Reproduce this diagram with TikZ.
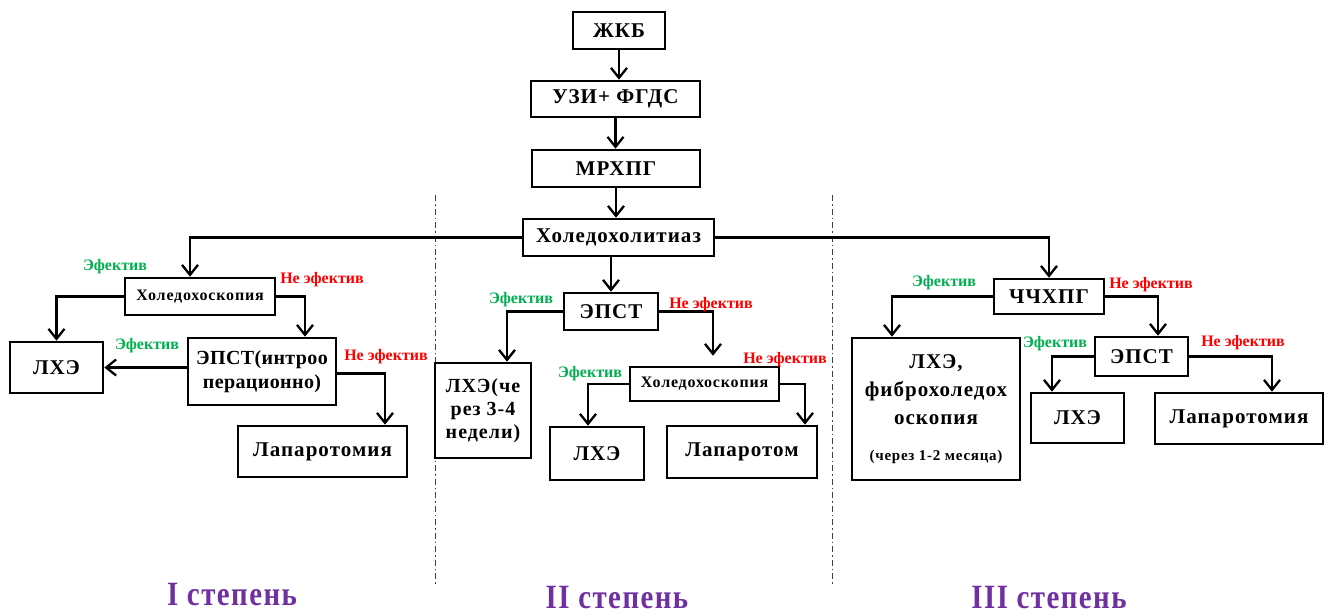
\documentclass[tikz,border=0pt]{standalone}
\usepackage{fontspec}
\setmainfont[LetterSpace=5]{Liberation Serif}
\usepackage{graphicx}
\usetikzlibrary{arrows.meta}
\definecolor{effgreen}{HTML}{00B050}
\definecolor{gradepurple}{HTML}{7030A0}
\tikzset{
  box/.style={draw, line width=2.6pt, inner sep=1pt, align=center, font=\bfseries\fontsize{21}{23}\selectfont},
  sbox/.style={box, font=\bfseries\fontsize{16}{18}\selectfont},
  conn/.style={line width=2.5pt, -{Straight Barb[length=10pt,width=16pt,line width=2.3pt]}},
  yes/.style={text=effgreen, inner sep=0pt, font=\bfseries\fontsize{16}{18}\selectfont\addfontfeature{LetterSpace=0}},
  no/.style={text=red, inner sep=0pt, font=\bfseries\fontsize{16}{18}\selectfont\addfontfeature{LetterSpace=0}},
  sepline/.style={line width=1pt, black!75, dash pattern=on 6pt off 3pt on 1.5pt off 3pt},
  grade/.style={text=gradepurple, inner sep=0pt, font=\bfseries\fontsize{34}{36}\selectfont}
}
\begin{document}
\begin{tikzpicture}[x=1pt,y=-1pt]
\fill[white] (0,0) rectangle (1330,614);
\useasboundingbox (0,0) rectangle (1330,614);

% separators
\coordinate (s1a) at (435,195); \coordinate (s1b) at (435,585);
\coordinate (s2a) at (832,195); \coordinate (s2b) at (832,585);
\draw[sepline] (s1a) -- (s1b);
\draw[sepline] (s2a) -- (s2b);

% top chain
\node[box, minimum width=92, minimum height=37] (zkb) at (619,30.5) {ЖКБ};
\node[box, minimum width=169, minimum height=36] (uzi) at (615.5,99) {УЗИ+ ФГДС};
\node[box, minimum width=168, minimum height=37] (mrh) at (616,168.5) {МРХПГ};
\node[box, minimum width=191, minimum height=37] (hol) at (618.5,237.5) {Холедохолитиаз};

% left section
\node[sbox, minimum width=150, minimum height=37] (hs1) at (200,296.5) {Холедохоскопия};
\node[box, minimum width=93, minimum height=51] (lhe1) at (56.5,367.5) {ЛХЭ};
\node[box, minimum width=148, minimum height=67, font=\bfseries\fontsize{20}{24}\selectfont\addfontfeature{LetterSpace=2}] (epst1) at (262,371.5) {ЭПСТ(интроо\\перационно)};
\node[box, minimum width=169, minimum height=51] (lap1) at (322.5,451.5) {Лапаротомия};

% middle section
\node[box, minimum width=96, minimum height=95, font=\bfseries\fontsize{20}{23}\selectfont] (lhe2) at (483,410.5) {ЛХЭ(че\\рез 3-4\\недели)};
\node[box, minimum width=94, minimum height=37] (epst2) at (611,311.5) {ЭПСТ};
\node[sbox, minimum width=149, minimum height=34] (hs2) at (704.5,384) {Холедохоскопия};
\node[box, minimum width=94, minimum height=53] (lhe3) at (597,453.5) {ЛХЭ};
\node[box, minimum width=150, minimum height=52] (lap2) at (742,452) {Лапаротом};

% right section
\node[box, minimum width=110, minimum height=35] (chh) at (1049,296.5) {ЧЧХПГ};
\node[box, minimum width=168, minimum height=142, font=\bfseries\fontsize{21}{28}\selectfont] (big) at (936,409) {ЛХЭ,\\фиброхоледох\\оскопия\\[8pt]{\fontsize{15}{17}\selectfont (через 1-2 месяца)}};
\node[box, minimum width=93, minimum height=39] (epst3) at (1141.5,356.5) {ЭПСТ};
\node[box, minimum width=93, minimum height=50] (lhe4) at (1077.5,418) {ЛХЭ};
\node[box, minimum width=168, minimum height=51] (lap3) at (1239,418.5) {Лапаротомия};

% connectors top
\draw[conn] (zkb.south) -- (zkb.south |- uzi.north);
\draw[conn] (uzi.south) -- (uzi.south |- mrh.north);
\draw[conn] (mrh.south) -- (mrh.south |- hol.north);
\draw[conn] (hol.west) -| ([xshift=-10pt]hs1.north);
\draw[conn] (hol.east) -| (chh.north);
\draw[conn] (hol.south -| epst2.north) -- (epst2.north);

% connectors left
\draw[conn] (hs1.west) -| (lhe1.north);
\draw[conn] (hs1.east) -| ([xshift=43pt]epst1.north);
\draw[conn] (epst1.west |- lhe1.east) -- (lhe1.east);
\draw[conn] ([yshift=-2pt]epst1.east) -| ([xshift=62.5pt]lap1.north);

% connectors middle
\draw[conn] (epst2.west) -| ([xshift=24pt]lhe2.north);
\draw[conn] (epst2.east) -| ([xshift=8.5pt,yshift=10pt]hs2.north);
\draw[conn] (hs2.west) -| ([xshift=-9pt]lhe3.north);
\draw[conn] (hs2.east) -| ([xshift=63pt]lap2.north);

% connectors right
\draw[conn] (chh.west) -| ([xshift=-44pt]big.north);
\draw[conn] (chh.east) -| ([xshift=16.5pt]epst3.north);
\draw[conn] (epst3.west) -| ([xshift=-25.5pt]lhe4.north);
\draw[conn] (epst3.east) -| ([xshift=33pt]lap3.north);

% labels
\node[yes] (y1) at (115,267) {Эфектив};
\node[no]  (n1) at (322,280) {Не эфектив};
\node[yes] (y2) at (147,346) {Эфектив};
\node[no]  (n2) at (386,357) {Не эфектив};
\node[yes] (y3) at (521,300) {Эфектив};
\node[no]  (n3) at (711,305) {Не эфектив};
\node[yes] (y4) at (590,374) {Эфектив};
\node[no]  (n4) at (785,360) {Не эфектив};
\node[yes] (y5) at (944,283) {Эфектив};
\node[no]  (n5) at (1151,285) {Не эфектив};
\node[yes] (y6) at (1055,344) {Эфектив};
\node[no]  (n6) at (1243,343) {Не эфектив};

% grades
\node[grade] (g1) at (232,595) {\scalebox{0.85}[1]{I степень}};
\node[grade] (g2) at (617,598) {\scalebox{0.85}[1]{II степень}};
\node[grade] (g3) at (1049,598) {\scalebox{0.85}[1]{III степень}};
\end{tikzpicture}
\end{document}
